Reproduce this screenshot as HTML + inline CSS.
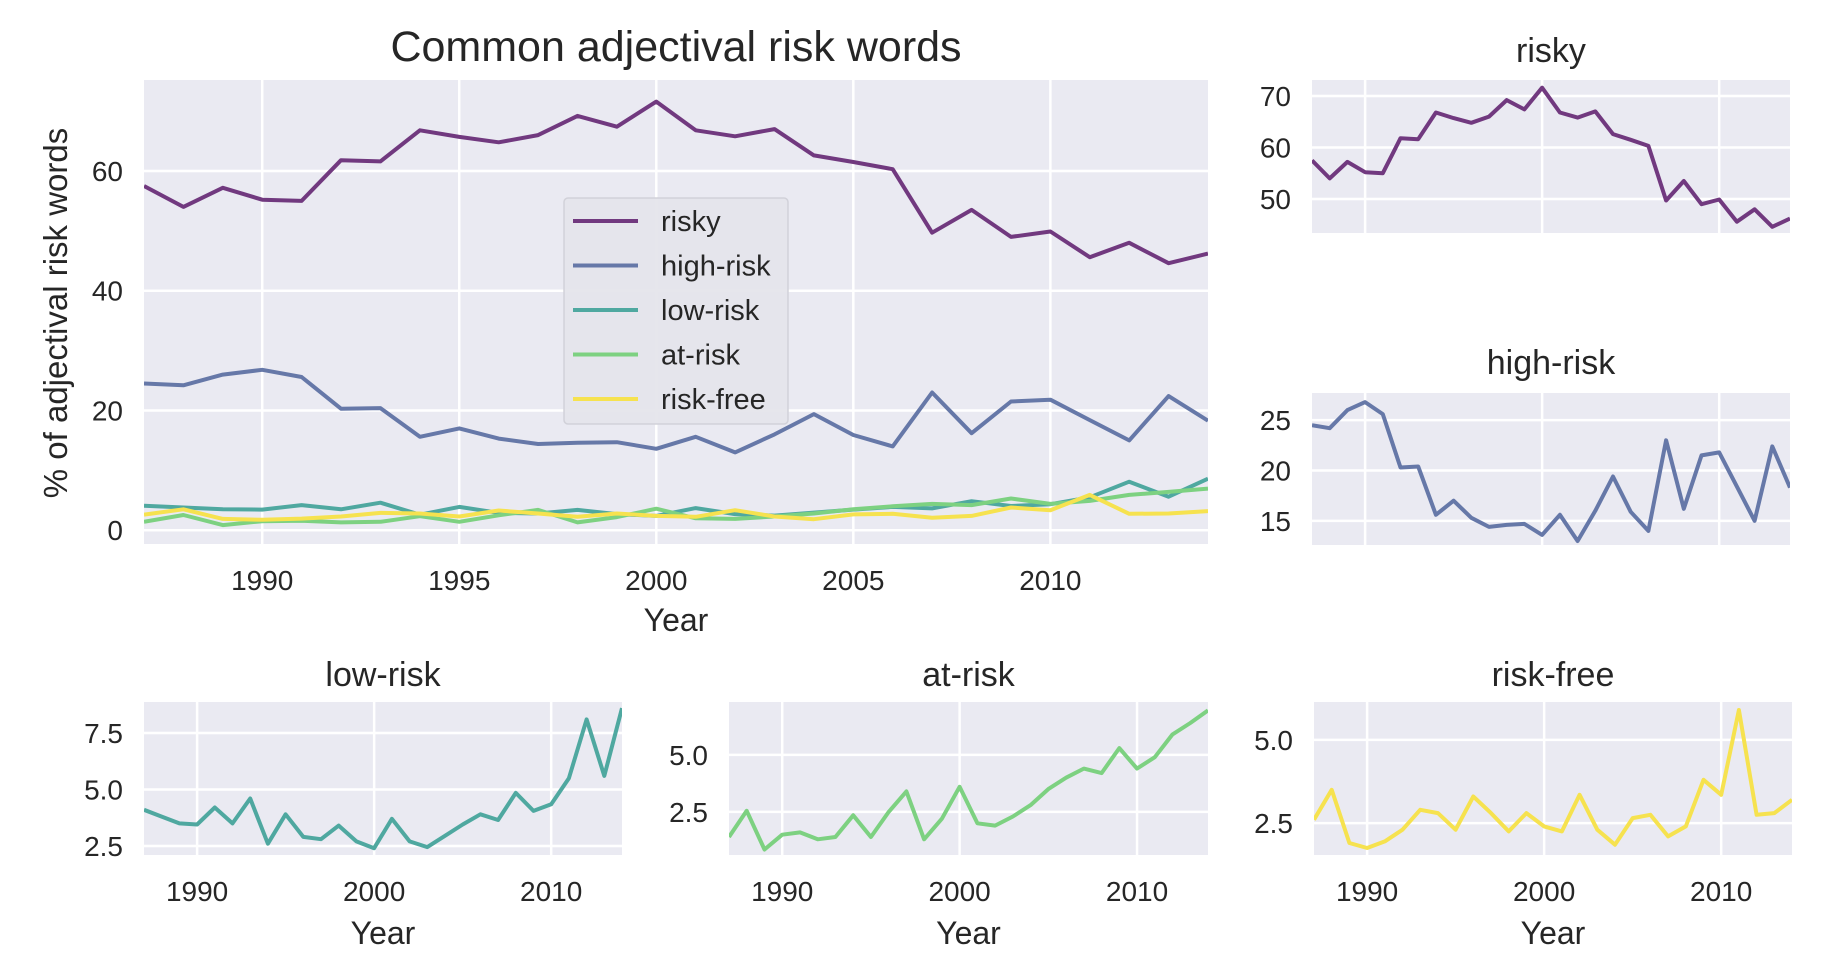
<!DOCTYPE html>
<html><head><meta charset="utf-8">
<style>
html,body{margin:0;padding:0;background:#fff;}
svg{display:block;font-family:"Liberation Sans","DejaVu Sans",sans-serif;}
</style></head>
<body>
<svg id="chart" width="1826" height="974" viewBox="0 0 1826 974" xmlns="http://www.w3.org/2000/svg"></svg>
<script>
const years = [1987,1988,1989,1990,1991,1992,1993,1994,1995,1996,1997,1998,1999,2000,2001,2002,2003,2004,2005,2006,2007,2008,2009,2010,2011,2012,2013,2014];
const seriesNames = ["risky","high-risk","low-risk","at-risk","risk-free"];
const riskyValues = [57.5,54,57.2,55.2,55,61.8,61.6,66.8,65.7,64.8,66,69.2,67.4,71.6,66.8,65.8,67,62.6,61.5,60.3,49.7,53.5,49,49.9,45.6,48,44.6,46.2];
const highRiskValues = [24.5,24.2,26,26.8,25.6,20.3,20.4,15.6,17,15.3,14.4,14.6,14.7,13.6,15.6,13,16,19.4,15.9,14,23,16.2,21.5,21.8,18.4,15,22.4,18.3];
const lowRiskValues = [4.1,3.8,3.5,3.45,4.2,3.5,4.6,2.6,3.9,2.9,2.8,3.4,2.7,2.4,3.7,2.7,2.45,2.95,3.45,3.9,3.65,4.85,4.05,4.35,5.5,8.1,5.6,8.6];
const atRiskValues = [1.4,2.55,0.85,1.5,1.6,1.3,1.4,2.35,1.4,2.5,3.4,1.3,2.2,3.6,2.0,1.9,2.3,2.8,3.5,4.0,4.4,4.2,5.3,4.4,4.9,5.9,6.4,6.95];
const riskFreeValues = [2.6,3.5,1.9,1.75,1.95,2.3,2.9,2.8,2.3,3.3,2.8,2.25,2.8,2.4,2.25,3.35,2.3,1.85,2.65,2.75,2.1,2.4,3.8,3.35,5.9,2.75,2.8,3.2];
const mainYTicks = [0,20,40,60];
const mainXTicks = [1990,1995,2000,2005,2010];
const smallXTicks = [1990,2000,2010];
const riskyTicks = [50,60,70];
const highRiskTicks = [15,20,25];
const lowRiskTicks = [2.5,5.0,7.5];
const atRiskTicks = [2.5,5.0];
const riskFreeTicks = [2.5,5.0];

const colors = ["#71397f","#6678a8","#4fa8a0","#7dd181","#f6e24f"];
const allValues = [riskyValues,highRiskValues,lowRiskValues,atRiskValues,riskFreeValues];
const NS = "http://www.w3.org/2000/svg";
const svg = document.getElementById('chart');
function mk(tag, attrs, parent){
  const e = document.createElementNS(NS, tag);
  for (const k in attrs) e.setAttribute(k, attrs[k]);
  (parent||svg).appendChild(e);
  return e;
}
function txt(s, x, y, size, anchor, parent){
  const t = mk('text', {x:x, y:y, 'font-size':size, 'text-anchor':anchor||'middle', fill:'#262626'}, parent);
  t.textContent = s;
  return t;
}

function panel(cfg){
  const g = mk('g', {});
  
  
  const {x0,x1,y0,y1,ymin,ymax} = cfg;
  const sx = v => x0 + (v-1987)/(2014-1987)*(x1-x0);
  const sy = v => y1 - (v-ymin)/(ymax-ymin)*(y1-y0);
  const bg = mk('rect', {x:x0, y:y0, width:x1-x0, height:y1-y0, fill:'#eaeaf2'}, g);
  
  
  cfg.yticks.forEach(v => {
    const l = mk('line', {x1:x0, x2:x1, y1:sy(v), y2:sy(v), stroke:'#fff', 'stroke-width':2.5}, g);
    
    
    const t = txt(cfg.fmt ? v.toFixed(1) : String(v), x0-21, sy(v)+10, cfg.tickSize, 'end', g);
    
    
  });
  cfg.xticks.forEach(v => {
    const l = mk('line', {x1:sx(v), x2:sx(v), y1:y0, y2:y1, stroke:'#fff', 'stroke-width':2.5}, g);
    
    
    if (cfg.showX) {
      const t = txt(String(v), sx(v), y1+46, cfg.tickSize, 'middle', g);
      
      
    }
  });
  const clipId = 'clip-' + cfg.name;
  const cp = mk('clipPath', {id:clipId}, g);
  mk('rect', {x:x0, y:y0, width:x1-x0, height:y1-y0}, cp);
  cfg.series.forEach(si => {
    const pts = years.map((yr,i) => sx(yr).toFixed(1)+','+sy(allValues[si][i]).toFixed(1)).join(' ');
    const p = mk('polyline', {points:pts, fill:'none', stroke:colors[si], 'stroke-width':4, 'stroke-linejoin':'round', 'clip-path':'url(#'+clipId+')'}, g);
    
    
  });
  const tt = txt(cfg.title, (x0+x1)/2, cfg.titleY, cfg.titleSize, 'middle', g);
  
  
  if (cfg.showX) {
    const xl = txt('Year', (x0+x1)/2, cfg.xlabelY, 32, 'middle', g);
    
    
  }
  return {sx, sy};
}

panel({name:'main-chart', x0:144, x1:1208, y0:80, y1:544, ymin:-2.3, ymax:75.2, yticks:mainYTicks, xticks:mainXTicks, showX:true, tickSize:28, title:'Common adjectival risk words', titleY:61, titleSize:43, xlabelY:631, series:[0,1,2,3,4]});
panel({name:'risky-panel', x0:1312, x1:1790, y0:80, y1:233, ymin:43.4, ymax:73.1, yticks:riskyTicks, xticks:smallXTicks, showX:false, tickSize:28, title:'risky', titleY:62, titleSize:34, series:[0]});
panel({name:'high-risk-panel', x0:1312, x1:1790, y0:393, y1:545, ymin:12.6, ymax:27.7, yticks:highRiskTicks, xticks:smallXTicks, showX:false, tickSize:28, title:'high-risk', titleY:374, titleSize:34, series:[1]});
panel({name:'low-risk-panel', x0:144, x1:622, y0:702, y1:855, ymin:2.1, ymax:8.87, yticks:lowRiskTicks, xticks:smallXTicks, showX:true, fmt:true, tickSize:28, title:'low-risk', titleY:686, titleSize:34, xlabelY:944, series:[2]});
panel({name:'at-risk-panel', x0:729, x1:1208, y0:702, y1:855, ymin:0.61, ymax:7.32, yticks:atRiskTicks, xticks:smallXTicks, showX:true, fmt:true, tickSize:28, title:'at-risk', titleY:686, titleSize:34, xlabelY:944, series:[3]});
panel({name:'risk-free-panel', x0:1314, x1:1792, y0:702, y1:855, ymin:1.54, ymax:6.14, yticks:riskFreeTicks, xticks:smallXTicks, showX:true, fmt:true, tickSize:28, title:'risk-free', titleY:686, titleSize:34, xlabelY:944, series:[4]});

const yl = txt('% of adjectival risk words', 0, 0, 33, 'middle');
yl.setAttribute('transform', 'translate(67,313) rotate(-90)');



const lg = mk('g', {});


mk('rect', {x:564, y:198, width:224, height:226, rx:4, fill:'#e5e5ec', stroke:'#d0d0d8', 'stroke-width':1.5, opacity:0.95}, lg);
seriesNames.forEach((n,i) => {
  const y = 221 + i*44.5;
  const e = mk('g', {}, lg);
  
  
  mk('line', {x1:573, x2:638, y1:y, y2:y, stroke:colors[i], 'stroke-width':4}, e);
  txt(n, 661, y+10, 29, 'start', e);
});
</script>
</body></html>
